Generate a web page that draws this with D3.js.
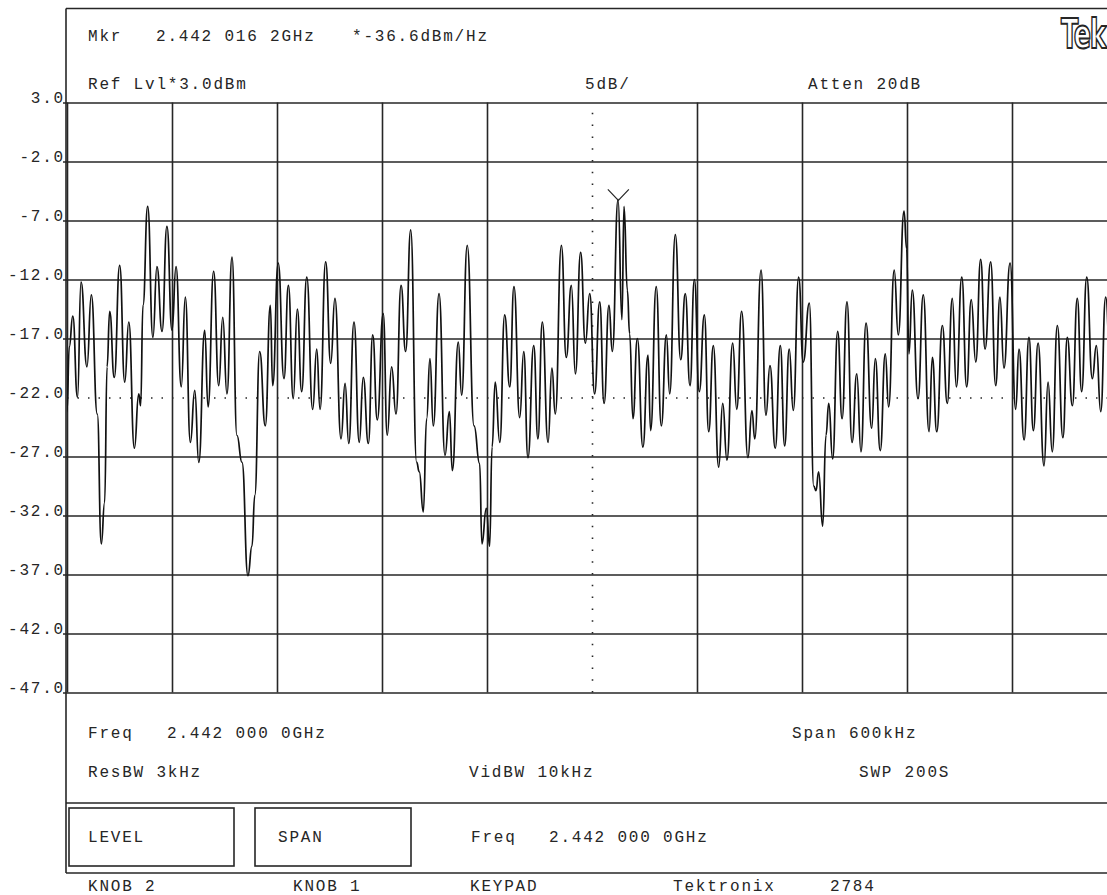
<!DOCTYPE html>
<html><head><meta charset="utf-8">
<script src="https://cdn.jsdelivr.net/npm/d3@7"></script>
<style>html,body{margin:0;padding:0;background:#fff;overflow:hidden}</style>
</head><body>
<svg id="c" width="1107" height="895"></svg>
<script>
// ---- data ----
const centerFreqGHz = 2.442;
const spanKHz = 600;
const freqKHz = [
-300.0,-298.7,-296.7,-294.0,-292.0,-288.6,-286.1,-282.7,-280.4,-278.5,-277.1,-275.6,-273.0,-269.9,-267.0,-264.7,-261.5,-259.0,-257.9,-256.6,-253.9,-250.9,-248.6,-245.7,-242.9,-240.0,-237.7,-234.7,-232.4,-229.5,-227.0,-224.7,-221.3,-219.4,-216.2,-213.3,-211.0,-208.6,-205.7,-202.9,-200.0,-196.6,-194.3,-192.7,-189.9,-186.7,-183.8,
-182.5,-179.3,-176.0,-173.5,-170.7,-168.4,-165.9,-163.0,-159.6,-157.3,-155.4,-152.2,-149.3,-146.9,-143.4,-141.1,-139.0,-136.0,-133.0,-130.7,-127.8,-125.3,-122.7,-119.3,-117.0,-114.5,-112.0,-109.1,-106.5,-103.6,-100.2,-98.7,-96.4,-94.5,-92.6,-90.7,-87.4,-84.0,-81.5,-79.8,-76.4,-74.5,-71.3,-67.4,
-64.2,-62.9,-60.4,-58.5,-57.1,-55.3,-52.7,-49.9,-47.0,-44.6,-41.3,-39.0,-36.6,-33.3,-30.9,-28.4,-25.1,-22.9,-21.0,-17.5,-14.7,-11.8,-9.5,-6.5,-3.8,-1.3,1.5,4.4,6.9,9.7,11.6,14.9,17.1,18.3,20.2,21.5,23.4,25.9,29.1,32.0,33.5,36.7,39.6,42.5,44.4,47.6,50.7,53.3,
56.0,58.5,61.3,64.2,66.7,69.3,72.4,74.7,77.1,80.4,82.7,85.5,89.1,91.4,93.0,96.6,99.4,101.7,104.7,107.6,110.1,112.7,115.0,118.1,120.7,124.2,126.7,128.0,129.5,131.8,133.7,135.3,137.5,140.4,142.9,145.7,148.6,151.3,153.7,156.6,159.8,161.9,164.7,167.6,169.5,172.7,
175.0,178.3,179.8,181.1,183.0,186.3,189.3,192.6,194.5,197.0,200.2,203.0,205.9,208.2,211.3,214.1,216.7,219.3,222.1,224.6,227.8,230.7,233.1,235.4,238.9,242.1,244.0,246.9,249.7,252.2,254.9,258.3,260.6,263.0,265.9,269.1,271.6,274.5,277.3,279.8,282.7,285.9,288.2,290.7,293.5,296.6,300.0
];
const levelDb = [
-23.2,-17.7,-15.1,-22.0,-12.2,-19.4,-13.3,-23.4,-34.4,-30.9,-19.4,-14.7,-20.3,-10.8,-20.7,-15.6,-26.3,-21.7,-22.7,-14.2,-5.8,-16.9,-10.9,-16.4,-7.5,-16.3,-10.9,-21.1,-13.5,-25.8,-21.4,-27.5,-16.3,-22.8,-11.3,-21.0,-15.2,-21.7,-10.1,-25.2,-27.5,-37.1,-34.6,-30.3,-18.1,-24.4,-14.2,
-21.0,-10.6,-20.4,-12.5,-22.1,-14.5,-21.5,-11.8,-23.0,-17.9,-23.0,-10.5,-19.1,-13.6,-25.5,-20.8,-25.9,-15.6,-25.8,-20.3,-25.9,-16.7,-23.9,-14.9,-25.2,-19.4,-23.4,-12.5,-18.1,-7.8,-27.5,-28.3,-31.7,-23.8,-18.7,-24.4,-13.2,-26.9,-23.2,-28.2,-17.3,-21.8,-9.1,-24.4,
-27.6,-34.4,-31.4,-34.6,-26.2,-20.7,-25.8,-15.0,-21.1,-12.6,-23.7,-18.1,-27.1,-17.6,-25.5,-15.6,-25.8,-19.5,-23.4,-9.1,-18.6,-12.5,-20.0,-9.7,-17.4,-13.2,-21.7,-13.9,-22.5,-14.2,-18.1,-5.2,-15.4,-5.8,-12.9,-16.6,-23.8,-17.0,-26.2,-18.4,-24.8,-12.6,-24.4,-16.7,-21.7,-8.2,-18.8,-13.2,
-21.0,-12.0,-21.5,-15.0,-24.9,-17.6,-27.9,-22.5,-27.3,-17.4,-23.0,-14.7,-27.1,-23.1,-25.5,-11.2,-23.5,-19.3,-26.3,-17.6,-26.1,-17.9,-23.1,-11.8,-19.0,-14.0,-29.5,-29.9,-28.3,-32.9,-25.2,-22.5,-27.2,-16.4,-23.8,-13.9,-25.8,-20.0,-26.6,-15.7,-24.6,-18.7,-26.5,-18.3,-22.8,-11.2,
-16.7,-6.2,-9.4,-18.3,-12.9,-22.1,-13.3,-24.9,-18.6,-24.9,-15.9,-22.5,-13.6,-21.1,-11.8,-21.1,-13.7,-19.0,-10.3,-17.9,-10.5,-21.0,-13.5,-19.5,-10.6,-23.0,-17.9,-25.6,-16.9,-24.8,-17.4,-27.8,-20.7,-26.6,-15.9,-25.4,-16.9,-22.7,-13.6,-21.5,-11.8,-20.4,-17.6,-23.2,-13.5,-21.0,-16.0
];
const yTickValues = [3, -2, -7, -12, -17, -22, -27, -32, -37, -42, -47];
const xTickValues = [-300, -240, -180, -120, -60, 0, 60, 120, 180, 240, 300];
const refLevelDb = 3.0;
const markerFreqKHz = 16.2;
const markerLevelDb = -5.3;

// ---- layout ----
const svg = d3.select('#c');
const plotL = 67, plotR = 1117, plotT = 102.5, plotB = 692.5;
const x = d3.scaleLinear().domain([-spanKHz/2, spanKHz/2]).range([plotL, plotR]);
const y = d3.scaleLinear().domain([-47, refLevelDb]).range([plotB, plotT]);
const ink = '#262626';
const fontFam = "'Liberation Mono', 'Courier New', monospace";
const fs = 16, ls = '1.8px';

// frame
const frame = svg.append('g').attr('stroke', ink).attr('stroke-width', 1.6).attr('fill', 'none');
frame.append('line').attr('x1', 66).attr('x2', 1107).attr('y1', 8.5).attr('y2', 8.5);
frame.append('line').attr('x1', 66).attr('x2', 66).attr('y1', 8.5).attr('y2', 873);
frame.append('line').attr('x1', 66).attr('x2', 1107).attr('y1', 803).attr('y2', 803);
frame.append('line').attr('x1', 66).attr('x2', 1107).attr('y1', 873).attr('y2', 873);
frame.append('rect').attr('x', 69).attr('y', 808).attr('width', 165).attr('height', 58);
frame.append('rect').attr('x', 255).attr('y', 808).attr('width', 156).attr('height', 58);

// grid via axes
const yGrid = d3.axisLeft(y).tickValues(yTickValues).tickSize(-(plotR - plotL) - 4).tickFormat(d => d.toFixed(1));
const gy = svg.append('g').attr('transform', `translate(${plotL - 4},0)`).call(yGrid);
gy.select('.domain').remove();
gy.selectAll('.tick line').attr('stroke', ink).attr('stroke-width', 1.6)
  .attr('stroke-dasharray', d => d === -22 ? '1.5,9' : null)
  .attr('x1', d => d === -22 ? 4 : 0);
gy.selectAll('.tick text').attr('font-family', fontFam).attr('font-size', fs).attr('fill', ink)
  .attr('letter-spacing', ls).attr('dy', '-0.02em').attr('text-anchor', 'end').attr('x', 2);

const xGrid = d3.axisBottom(x).tickValues(xTickValues).tickSize(-(plotB - plotT)).tickFormat('');
const gx = svg.append('g').attr('transform', `translate(0,${plotB})`).call(xGrid);
gx.select('.domain').remove();
gx.selectAll('.tick line').attr('stroke', ink).attr('stroke-width', 1.6)
  .attr('stroke-dasharray', d => d === 0 ? '1.5,10.3' : null);

// trace
const pts = freqKHz.map((f, i) => [f, levelDb[i]]);
svg.append('defs').append('clipPath').attr('id', 'clip').append('rect')
  .attr('x', plotL).attr('y', 0).attr('width', plotR - plotL).attr('height', plotB);
svg.append('path').datum(pts).attr('clip-path', 'url(#clip)')
  .attr('d', d3.line().x(d => x(d[0])).y(d => y(d[1])).curve(d3.curveBumpX))
  .attr('fill', 'none').attr('stroke', '#111').attr('stroke-width', 1.7);

// marker
const mx = x(markerFreqKHz) - 2, my = y(markerLevelDb);
svg.append('path').attr('d', `M${mx - 10.5},${my - 11}L${mx},${my}L${mx + 10.5},${my - 11}`)
  .attr('fill', 'none').attr('stroke', ink).attr('stroke-width', 1.2);

// texts
const texts = [
  ['Mkr', 88, 41], ['2.442 016 2GHz', 156, 41], ['*-36.6dBm/Hz', 352, 41],
  ['Ref Lvl*3.0dBm', 88, 89], ['5dB/', 585, 89], ['Atten 20dB', 808, 89],
  ['Freq', 88, 738], ['2.442 000 0GHz', 167, 738], ['Span 600kHz', 792, 738],
  ['ResBW 3kHz', 88, 777], ['VidBW 10kHz', 469, 777], ['SWP 200S', 859, 777],
  ['LEVEL', 88, 842], ['SPAN', 278, 842], ['Freq', 471, 842], ['2.442 000 0GHz', 549, 842],
  ['KNOB 2', 88, 891], ['KNOB 1', 293, 891], ['KEYPAD', 470, 891], ['Tektronix', 673, 891], ['2784', 830, 891]
];
svg.append('g').selectAll('text').data(texts).join('text')
  .attr('x', d => d[1]).attr('y', d => d[2]).text(d => d[0])
  .attr('font-family', fontFam).attr('font-size', fs).attr('letter-spacing', ls).attr('fill', ink)
  .style('white-space', 'pre');

// Tek logo (outlined, condensed)
svg.append('text').attr('transform', 'translate(1061,48) scale(0.62,1)').text('Tek')
  .attr('font-family', "'DejaVu Sans', sans-serif").attr('font-weight', 'bold').attr('font-size', 41)
  .attr('letter-spacing', '-2px').attr('fill', '#fff').attr('stroke', ink).attr('stroke-width', 2);
</script>
</body></html>
